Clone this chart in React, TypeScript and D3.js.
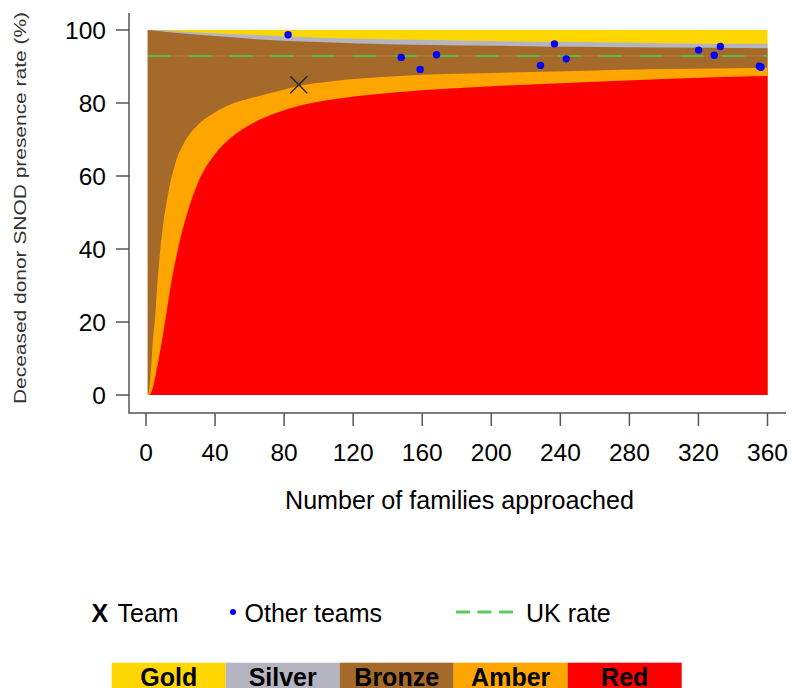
import React from "react";
import * as d3 from "d3";

// ---- data ----
const xTicks = [0, 40, 80, 120, 160, 200, 240, 280, 320, 360];
const yTicks = [0, 20, 40, 60, 80, 100];

// top boundaries of the funnel bands (families approached -> rate %)
const upperN = [1, 10, 20, 30, 50, 66, 82, 100, 147, 200, 250, 300, 360];
const silverTop = [100, 99.9, 99.6, 99.3, 98.9, 98.6, 98.2, 97.9, 97.4, 97.0, 96.7, 96.4, 96.2];
const bronzeTop = [100, 99.6, 99.1, 98.7, 98.0, 97.4, 97.0, 96.7, 96.0, 95.7, 95.4, 95.2, 95.0];

const amberN = [1, 1.7, 3, 4, 5.2, 6.5, 8.1, 10, 12, 14, 17, 22.6, 30, 40, 50, 60, 78, 89, 106.5, 147, 200, 250, 300, 360];
const amberTop = [0, 1, 8, 15, 21, 30, 39, 47, 53, 58, 63.5, 69.5, 74, 77.5, 79.8, 81.2, 83.4, 84.7, 85.9, 87.4, 88.2, 88.8, 89.3, 89.7];

const redN = [2, 4, 6, 8, 11, 14, 18.5, 24, 30, 40, 50, 60, 75, 90, 110, 147, 200, 250, 300, 360];
const redTop = [0, 2, 6.5, 11.5, 20, 29, 40, 50, 58, 66, 70.8, 74, 77.2, 79.4, 81.1, 83.0, 84.6, 85.6, 86.6, 87.4];

const otherN = [82.3, 147.8, 158.8, 168.3, 228.5, 236.6, 243.4, 320.1, 329.1, 332.7, 355.2, 356.2];
const otherRate = [98.7, 92.5, 89.2, 93.2, 90.3, 96.2, 92.1, 94.5, 93.1, 95.5, 90.1, 89.8];

const teamN = 88.5;
const teamRate = 85;
const ukRate = 92.9;

const bandNames = ["Gold", "Silver", "Bronze", "Amber", "Red"];
const bandColors = ["#FFD700", "#B5B5C2", "#A5692A", "#FFA500", "#FF0000"];

const FONT = "'Liberation Sans', Arial, sans-serif";

export default function App() {
  const x = d3.scaleLinear().domain([0, 360]).range([146, 767.5]);
  const y = d3.scaleLinear().domain([0, 100]).range([395, 30]);

  const area = (ns: number[], vs: number[]) =>
    d3
      .area<number>()
      .x((_, i) => x(ns[i]))
      .y0(() => y(0))
      .y1((v) => y(v))
      .curve(d3.curveMonotoneX)(vs) as string;

  const axisColor = "#555";

  return (
    <svg
      width={792}
      height={688}
      style={{ position: "absolute", left: 0, top: 0, background: "#fff" }}
      fontFamily={FONT}
    >
      {/* bands */}
      <rect
        x={x(1)}
        y={y(100)}
        width={x(360) - x(1)}
        height={y(0) - y(100)}
        fill={bandColors[0]}
      />
      <path d={area(upperN, silverTop)} fill={bandColors[1]} />
      <path d={area(upperN, bronzeTop)} fill={bandColors[2]} />
      <path d={area(amberN, amberTop)} fill={bandColors[3]} />
      <path d={area(redN, redTop)} fill={bandColors[4]} />

      {/* UK rate */}
      <line x1={x(1)} x2={x(360)} y1={y(ukRate)} y2={y(ukRate)} stroke="#C08850" strokeWidth={1} opacity={0.7} />
      <line
        x1={x(1)}
        x2={x(360)}
        y1={y(ukRate)}
        y2={y(ukRate)}
        stroke="#5DB84A"
        strokeWidth={2}
        strokeDasharray="23 18"
      />

      {/* other teams */}
      {otherN.map((n, i) => (
        <circle key={i} cx={x(n)} cy={y(otherRate[i])} r={3.7} fill="#0000FF" />
      ))}

      {/* team */}
      <g stroke="#222" strokeWidth={1.3}>
        <line x1={x(teamN) - 8.5} x2={x(teamN) + 8.5} y1={y(teamRate) - 8.5} y2={y(teamRate) + 8.5} />
        <line x1={x(teamN) - 8.5} x2={x(teamN) + 8.5} y1={y(teamRate) + 8.5} y2={y(teamRate) - 8.5} />
      </g>

      {/* axes */}
      <path d="M129,13 V413 H786" fill="none" stroke={axisColor} strokeWidth={1.5} />
      {yTicks.map((t) => (
        <g key={t}>
          <line x1={116} x2={129} y1={y(t)} y2={y(t)} stroke={axisColor} strokeWidth={1.5} />
          <text x={106} y={y(t)} textAnchor="end" dominantBaseline="central" fontSize={24.5} fill="#000">
            {t}
          </text>
        </g>
      ))}
      {xTicks.map((t) => (
        <g key={t}>
          <line x1={x(t)} x2={x(t)} y1={413} y2={426} stroke={axisColor} strokeWidth={1.5} />
          <text x={x(t)} y={461} textAnchor="middle" fontSize={24.5} fill="#000">
            {t}
          </text>
        </g>
      ))}
      <text x={459.5} y={509} textAnchor="middle" fontSize={25} fill="#000" textLength={349} lengthAdjust="spacingAndGlyphs">
        Number of families approached
      </text>
      <text
        transform="translate(26,208) rotate(-90)"
        textAnchor="middle"
        fontSize={17}
        fill="#333"
        textLength={392}
        lengthAdjust="spacingAndGlyphs"
      >
        Deceased donor SNOD presence rate (%)
      </text>

      {/* legend row */}
      <text x={91.5} y={622} fontSize={25} fontWeight="bold" fill="#000">X</text>
      <text x={117.5} y={622} fontSize={25} fill="#000">Team</text>
      <circle cx={233} cy={612} r={3} fill="#0000FF" />
      <text x={244.5} y={622} fontSize={25} fill="#000">Other teams</text>
      <line x1={456} x2={513} y1={612} y2={612} stroke="#5DC85D" strokeWidth={3} strokeDasharray="14 7.5" />
      <text x={526} y={622} fontSize={25} fill="#000">UK rate</text>

      {/* colour key */}
      {bandNames.map((name, i) => (
        <g key={name}>
          <rect x={111.7 + i * 114} y={662.7} width={114} height={30} fill={bandColors[i]} />
          <text
            x={111.7 + i * 114 + 57}
            y={686}
            textAnchor="middle"
            fontSize={25}
            fontWeight="bold"
            fill="#000"
          >
            {name}
          </text>
        </g>
      ))}
    </svg>
  );
}
